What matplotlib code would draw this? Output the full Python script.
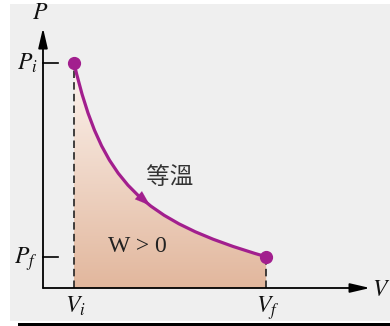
import matplotlib
matplotlib.use("Agg")
import matplotlib.pyplot as plt
import numpy as np
from matplotlib.path import Path
from matplotlib.patches import PathPatch, Rectangle
from matplotlib.colors import LinearSegmentedColormap

plt.rcParams['mathtext.fontset'] = 'stix'

# States of the isothermal expansion
V_i, V_f = 1.0, 7.2
P_i, P_f = 7.2, 1.0
# Bezier control points shaping the isotherm between the two states
ctrl_v = [1.89, 3.14]
ctrl_p = [3.41, 2.16]

purple = '#a21f8e'

fig = plt.figure(figsize=(3.9, 3.26), dpi=100)
W, H = 390, 326
fig.add_artist(Rectangle((10 / W, 5 / H), 380 / W, 317 / H, transform=fig.transFigure,
                         facecolor='#efefef', edgecolor='none', zorder=-2))
fig.add_artist(Rectangle((18 / W, 0), 372 / W, 3 / H, transform=fig.transFigure,
                         facecolor='black', edgecolor='none', zorder=-2))

ax = fig.add_axes([0, 0, 1, 1])
ax.axis('off')

# Isotherm path and the shaded work region beneath it
curve = Path([(V_i, P_i), (ctrl_v[0], ctrl_p[0]), (ctrl_v[1], ctrl_p[1]), (V_f, P_f)],
             [Path.MOVETO, Path.CURVE4, Path.CURVE4, Path.CURVE4])
region = Path([(V_i, 0), (V_i, P_i), (ctrl_v[0], ctrl_p[0]), (ctrl_v[1], ctrl_p[1]),
               (V_f, P_f), (V_f, 0), (V_i, 0)],
              [Path.MOVETO, Path.LINETO, Path.CURVE4, Path.CURVE4, Path.CURVE4,
               Path.LINETO, Path.CLOSEPOLY])
clip = PathPatch(region, facecolor='none', edgecolor='none', transform=ax.transData)
ax.add_patch(clip)
cmap = LinearSegmentedColormap.from_list('work', ['#e2b79d', '#fcf4ef'])
grad = np.linspace(0, 1, 256).reshape(-1, 1)
im = ax.imshow(grad, extent=[V_i, V_f, 0, P_i], origin='lower', aspect='auto',
               cmap=cmap, interpolation='bicubic', zorder=1)
im.set_clip_path(clip)

ax.add_patch(PathPatch(curve, facecolor='none', edgecolor=purple, lw=2.3,
                       capstyle='round', zorder=4))

# Direction arrow placed along the curve
def bez(t):
    pts = np.array([(V_i, P_i), (ctrl_v[0], ctrl_p[0]), (ctrl_v[1], ctrl_p[1]), (V_f, P_f)])
    return ((1 - t) ** 3 * pts[0] + 3 * (1 - t) ** 2 * t * pts[1]
            + 3 * (1 - t) * t ** 2 * pts[2] + t ** 3 * pts[3])

tail, tip = bez(0.50), bez(0.59)
ax.annotate('', xy=tip, xytext=tail,
            arrowprops=dict(arrowstyle='-|>,head_length=1.1,head_width=0.38',
                            color=purple, lw=0.1, shrinkA=0, shrinkB=0), zorder=5)

# End-state markers
ax.plot([V_i, V_f], [P_i, P_f], 'o', color=purple, ms=8.5, zorder=6)

# Dashed guides down to the volume axis
ax.plot([V_i, V_i], [0, P_i], color='#222222', lw=1.2, ls=(0, (4.5, 2.5)), zorder=3)
ax.plot([V_f, V_f], [0, P_f], color='#222222', lw=1.2, ls=(0, (4.5, 2.5)), zorder=3)

# Axes with arrowheads
ax.annotate('', xy=(0, 8.32), xytext=(0, 0),
            arrowprops=dict(arrowstyle='-|>,head_length=1.2,head_width=0.28',
                            color='black', lw=1.3, shrinkA=0, shrinkB=0), zorder=7)
ax.annotate('', xy=(10.55, 0), xytext=(0, 0),
            arrowprops=dict(arrowstyle='-|>,head_length=1.2,head_width=0.28',
                            color='black', lw=1.3, shrinkA=0, shrinkB=0), zorder=7)
ax.plot([0, 0.48], [P_i, P_i], color='black', lw=1.2, zorder=7)
ax.plot([0, 0.48], [P_f, P_f], color='black', lw=1.2, zorder=7)

# Labels
lab = dict(fontsize=17, color='#111111')
ax.text(-0.1, 8.62, '$P$', ha='center', va='baseline', **lab)
ax.text(-0.17, 6.98, '$P_i$', ha='right', va='baseline', **lab)
ax.text(-0.17, 0.78, '$P_f$', ha='right', va='baseline', **lab)
ax.text(V_i + 0.05, -0.78, '$V_i$', ha='center', va='baseline', **lab)
ax.text(V_f + 0.05, -0.78, '$V_f$', ha='center', va='baseline', **lab)
ax.text(10.6, -0.27, '$V$', ha='left', va='baseline', **lab)
ax.text(4.1, 3.52, '等溫', ha='center', va='center', fontsize=17, color='#333333',
        family=['Noto Sans CJK TC', 'DejaVu Sans'])
ax.text(3.06, 1.34, 'W > 0', ha='center', va='center', fontsize=17, color='#222222',
        family='Liberation Serif')

ax.set_xlim(-43 / 31, 347 / 31)
ax.set_ylim(-38 / 31.25, 288 / 31.25)

fig.savefig('out.png', dpi=100)
